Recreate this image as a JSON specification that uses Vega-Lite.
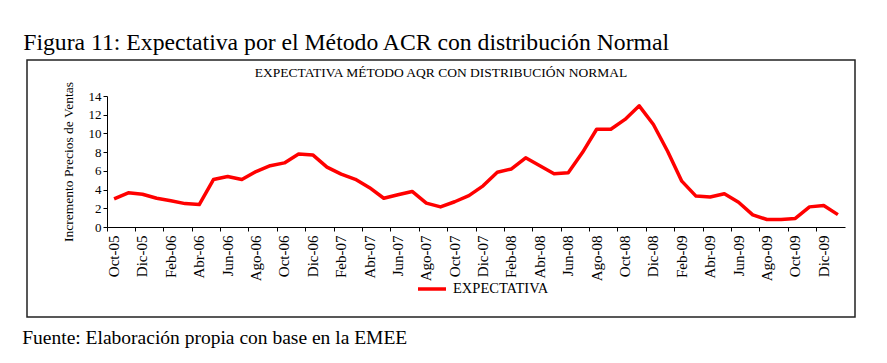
{
  "$schema": "https://vega.github.io/schema/vega-lite/v6.json",
  "padding": {"left": 22, "top": 30, "right": 5, "bottom": 5},
  "background": "white",
  "title": {
    "text": "Figura 11: Expectativa por el Método ACR con distribución Normal",
    "anchor": "start",
    "font": "Liberation Serif",
    "fontSize": 23.7,
    "fontWeight": "normal",
    "color": "black",
    "baseline": "alphabetic",
    "offset": -14,
    "dx": 1
  },
  "vconcat": [
    {
      "title": {
        "text": "Fuente: Elaboración propia con base en la EMEE",
        "orient": "bottom",
        "anchor": "start",
        "font": "Liberation Serif",
        "fontSize": 19.5,
        "fontWeight": "normal",
        "color": "black",
        "baseline": "top",
        "offset": 11,
        "dx": -4
      },
      "vconcat": [
        {
          "width": 828,
          "height": 257,
          "title": {
            "text": "EXPECTATIVA MÉTODO AQR CON DISTRIBUCIÓN NORMAL",
            "anchor": "middle",
            "font": "Liberation Serif",
            "fontSize": 13.5,
            "fontWeight": "normal",
            "color": "black",
            "baseline": "alphabetic",
            "offset": -30
          },
          "data": {
            "values": [
              {"mes": "Oct-05", "valor": 3.0, "serie": "EXPECTATIVA"},
              {"mes": "Nov-05", "valor": 3.65, "serie": "EXPECTATIVA"},
              {"mes": "Dic-05", "valor": 3.5, "serie": "EXPECTATIVA"},
              {"mes": "Ene-06", "valor": 3.07, "serie": "EXPECTATIVA"},
              {"mes": "Feb-06", "valor": 2.8, "serie": "EXPECTATIVA"},
              {"mes": "Mar-06", "valor": 2.5, "serie": "EXPECTATIVA"},
              {"mes": "Abr-06", "valor": 2.4, "serie": "EXPECTATIVA"},
              {"mes": "May-06", "valor": 5.07, "serie": "EXPECTATIVA"},
              {"mes": "Jun-06", "valor": 5.4, "serie": "EXPECTATIVA"},
              {"mes": "Jul-06", "valor": 5.07, "serie": "EXPECTATIVA"},
              {"mes": "Ago-06", "valor": 5.93, "serie": "EXPECTATIVA"},
              {"mes": "Sep-06", "valor": 6.55, "serie": "EXPECTATIVA"},
              {"mes": "Oct-06", "valor": 6.85, "serie": "EXPECTATIVA"},
              {"mes": "Nov-06", "valor": 7.8, "serie": "EXPECTATIVA"},
              {"mes": "Dic-06", "valor": 7.7, "serie": "EXPECTATIVA"},
              {"mes": "Ene-07", "valor": 6.4, "serie": "EXPECTATIVA"},
              {"mes": "Feb-07", "valor": 5.65, "serie": "EXPECTATIVA"},
              {"mes": "Mar-07", "valor": 5.1, "serie": "EXPECTATIVA"},
              {"mes": "Abr-07", "valor": 4.2, "serie": "EXPECTATIVA"},
              {"mes": "May-07", "valor": 3.07, "serie": "EXPECTATIVA"},
              {"mes": "Jun-07", "valor": 3.45, "serie": "EXPECTATIVA"},
              {"mes": "Jul-07", "valor": 3.8, "serie": "EXPECTATIVA"},
              {"mes": "Ago-07", "valor": 2.55, "serie": "EXPECTATIVA"},
              {"mes": "Sep-07", "valor": 2.15, "serie": "EXPECTATIVA"},
              {"mes": "Oct-07", "valor": 2.7, "serie": "EXPECTATIVA"},
              {"mes": "Nov-07", "valor": 3.35, "serie": "EXPECTATIVA"},
              {"mes": "Dic-07", "valor": 4.4, "serie": "EXPECTATIVA"},
              {"mes": "Ene-08", "valor": 5.85, "serie": "EXPECTATIVA"},
              {"mes": "Feb-08", "valor": 6.2, "serie": "EXPECTATIVA"},
              {"mes": "Mar-08", "valor": 7.4, "serie": "EXPECTATIVA"},
              {"mes": "Abr-08", "valor": 6.55, "serie": "EXPECTATIVA"},
              {"mes": "May-08", "valor": 5.7, "serie": "EXPECTATIVA"},
              {"mes": "Jun-08", "valor": 5.8, "serie": "EXPECTATIVA"},
              {"mes": "Jul-08", "valor": 7.95, "serie": "EXPECTATIVA"},
              {"mes": "Ago-08", "valor": 10.45, "serie": "EXPECTATIVA"},
              {"mes": "Sep-08", "valor": 10.45, "serie": "EXPECTATIVA"},
              {"mes": "Oct-08", "valor": 11.5, "serie": "EXPECTATIVA"},
              {"mes": "Nov-08", "valor": 12.95, "serie": "EXPECTATIVA"},
              {"mes": "Dic-08", "valor": 10.95, "serie": "EXPECTATIVA"},
              {"mes": "Ene-09", "valor": 8.1, "serie": "EXPECTATIVA"},
              {"mes": "Feb-09", "valor": 4.9, "serie": "EXPECTATIVA"},
              {"mes": "Mar-09", "valor": 3.3, "serie": "EXPECTATIVA"},
              {"mes": "Abr-09", "valor": 3.2, "serie": "EXPECTATIVA"},
              {"mes": "May-09", "valor": 3.55, "serie": "EXPECTATIVA"},
              {"mes": "Jun-09", "valor": 2.65, "serie": "EXPECTATIVA"},
              {"mes": "Jul-09", "valor": 1.3, "serie": "EXPECTATIVA"},
              {"mes": "Ago-09", "valor": 0.8, "serie": "EXPECTATIVA"},
              {"mes": "Sep-09", "valor": 0.8, "serie": "EXPECTATIVA"},
              {"mes": "Oct-09", "valor": 0.92, "serie": "EXPECTATIVA"},
              {"mes": "Nov-09", "valor": 2.15, "serie": "EXPECTATIVA"},
              {"mes": "Dic-09", "valor": 2.3, "serie": "EXPECTATIVA"},
              {"mes": "Ene-10", "valor": 1.32, "serie": "EXPECTATIVA"}
            ]
          },
          "mark": {"type": "line", "strokeWidth": 3.5, "strokeJoin": "round"},
          "encoding": {
            "x": {
              "field": "mes",
              "type": "ordinal",
              "sort": null,
              "bandPosition": 0.5,
              "scale": {"type": "band", "range": [80, 818], "paddingInner": 0, "paddingOuter": 0},
              "axis": {
                "title": null,
                "offset": -90,
                "values": ["Oct-05", "Dic-05", "Feb-06", "Abr-06", "Jun-06", "Ago-06", "Oct-06", "Dic-06", "Feb-07", "Abr-07", "Jun-07", "Ago-07", "Oct-07", "Dic-07", "Feb-08", "Abr-08", "Jun-08", "Ago-08", "Oct-08", "Dic-08", "Feb-09", "Abr-09", "Jun-09", "Ago-09", "Oct-09", "Dic-09"],
                "bandPosition": 0,
                "labelAngle": -90,
                "labelAlign": "right",
                "labelBaseline": "middle",
                "labelFont": "Liberation Serif",
                "labelFontSize": 15,
                "labelColor": "black",
                "labelPadding": 4,
                "tickSize": 4,
                "tickColor": "black",
                "domainColor": "black",
                "grid": false
              }
            },
            "y": {
              "field": "valor",
              "type": "quantitative",
              "scale": {"domain": [0, 14], "range": [167, 36], "nice": false, "zero": true},
              "axis": {
                "title": "Incremento Precios de Ventas",
                "titleFont": "Liberation Serif",
                "titleFontSize": 13.5,
                "titleFontWeight": "normal",
                "titleColor": "black",
                "titlePadding": 13,
                "offset": -80,
                "values": [0, 2, 4, 6, 8, 10, 12, 14],
                "labelFont": "Liberation Serif",
                "labelFontSize": 13,
                "labelColor": "black",
                "labelPadding": 2,
                "tickSize": 4,
                "tickColor": "black",
                "domainColor": "black",
                "grid": false
              }
            },
            "color": {
              "field": "serie",
              "type": "nominal",
              "scale": {"range": ["#ff0000"]},
              "legend": {
                "title": null,
                "orient": "none",
                "legendX": 389,
                "legendY": 213,
                "symbolType": "stroke",
                "symbolSize": 784,
                "symbolStrokeWidth": 3.5,
                "labelFont": "Liberation Serif",
                "labelFontSize": 14.5,
                "labelColor": "black",
                "labelOffset": 5
              }
            }
          }
        }
      ]
    }
  ],
  "config": {
    "view": {"stroke": "#222222", "strokeWidth": 1.5},
    "concat": {"spacing": 0}
  }
}
